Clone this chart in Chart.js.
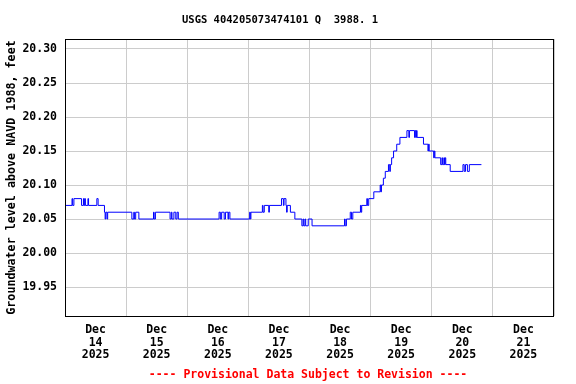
<!DOCTYPE html>
<html>
<head>
<meta charset="utf-8">
<script src="https://cdn.jsdelivr.net/npm/chart.js@4"></script>
<style>
  html, body { margin: 0; padding: 0; background: #fff; }
  #wrap { width: 576px; height: 384px; }
</style>
</head>
<body>
<div id="wrap"><canvas id="gw"></canvas></div>
<script>
// ── Data (hours since Dec 14 2025 00:00, level in ft) ─────────────
const TITLE = "USGS 404205073474101 Q  3988. 1";
const Y_TITLE = "Groundwater level above NAVD 1988, feet";
const FOOTER = "---- Provisional Data Subject to Revision ----";

const dayLabels = ["14", "15", "16", "17", "18", "19", "20", "21"];
const yTicks = [19.95, 20.00, 20.05, 20.10, 20.15, 20.20, 20.25, 20.30];

const hours = [
  0, 2.75, 3, 3.5, 6.5, 7.25, 7.5, 7.75, 8, 9, 9.25, 12.5, 13,
  15.5, 15.75, 16, 16.5, 16.75, 26.25, 27, 27.25, 27.75, 29,
  34.75, 35, 35.5, 41.25, 41.75, 42, 42.75, 43.5, 44, 44.5,
  60.5, 61, 61.5, 62.5, 63, 64, 64.25, 64.75, 72.5, 72.75, 73,
  77.5, 77.75, 78.25, 80, 80.25, 85, 85.75, 86, 86.75, 87, 87.25,
  88.5, 90.25, 93, 93.5, 93.75, 94.25, 94.5, 95.5, 97,
  109.75, 110, 110.5, 112, 112.5, 113, 116, 116.25, 116.5,
  118.5, 118.75, 119.25, 121.25, 123.75, 124, 124.25, 125, 125.75,
  127, 127.5, 127.75, 128.25, 129, 130.25, 131.5, 134.25, 135, 135.25,
  137.25, 137.5, 137.75, 138, 138.25, 140.75, 142.5, 142.75, 143,
  144.75, 145, 145.25, 147.5, 148, 148.25, 148.75, 149, 149.25, 149.5,
  151.25, 156.25, 156.75, 157.25, 158, 158.75, 163.5
];
const levels = [
  20.07, 20.08, 20.07, 20.08, 20.07, 20.08, 20.07, 20.08, 20.07, 20.08, 20.07, 20.08, 20.07,
  20.06, 20.05, 20.06, 20.05, 20.06, 20.05, 20.06, 20.05, 20.06, 20.05,
  20.06, 20.05, 20.06, 20.05, 20.06, 20.05, 20.06, 20.05, 20.06, 20.05,
  20.06, 20.05, 20.06, 20.05, 20.06, 20.05, 20.06, 20.05, 20.06, 20.05, 20.06,
  20.07, 20.06, 20.07, 20.06, 20.07, 20.08, 20.07, 20.08, 20.07, 20.06, 20.07,
  20.06, 20.05, 20.04, 20.05, 20.04, 20.05, 20.04, 20.05, 20.04,
  20.05, 20.04, 20.05, 20.06, 20.05, 20.06, 20.07, 20.06, 20.07,
  20.08, 20.07, 20.08, 20.09, 20.10, 20.09, 20.10, 20.11, 20.12,
  20.13, 20.12, 20.13, 20.14, 20.15, 20.16, 20.17, 20.18, 20.17, 20.18,
  20.17, 20.18, 20.17, 20.18, 20.17, 20.16, 20.15, 20.16, 20.15,
  20.14, 20.15, 20.14, 20.13, 20.14, 20.13, 20.14, 20.13, 20.14, 20.13,
  20.12, 20.13, 20.12, 20.13, 20.12, 20.13, 20.13
];

const FONT = "'DejaVu Sans Mono', 'Liberation Mono', monospace";

// ── Frame + title/footer text ─────────────────────────────────────
const usgsText = {
  id: "usgsText",
  afterDraw(chart) {
    const { ctx, chartArea: a } = chart;
    ctx.save();
    ctx.strokeStyle = "#000";
    ctx.lineWidth = 1;
    ctx.strokeRect(a.left + 0.5, a.top + 0.5, a.right - a.left - 1, a.bottom - a.top);
    ctx.textAlign = "center";
    ctx.textBaseline = "middle";
    ctx.fillStyle = "#000";
    ctx.font = "bold 10.5px " + FONT;
    ctx.fillText(TITLE, 280, 20);
    ctx.fillStyle = "#ff0000";
    ctx.font = "bold 11.5px " + FONT;
    ctx.fillText(FOOTER, 308, 375);
    ctx.restore();
  }
};

new Chart(document.getElementById("gw"), {
  type: "line",
  data: {
    datasets: [{
      data: hours.map((h, i) => ({ x: h, y: levels[i] })),
      borderColor: "#0000ff",
      borderWidth: 1,
      pointRadius: 0,
      stepped: true,
      fill: false
    }]
  },
  options: {
    responsive: true, maintainAspectRatio: false, animation: false,
    layout: { padding: { top: 39, right: 22, left: 0, bottom: 0 } },
    plugins: { legend: { display: false }, tooltip: { enabled: false } },
    scales: {
      x: {
        type: "linear", min: 0, max: 192,
        afterBuildTicks: s => { s.ticks = []; for (let v = 0; v <= 192; v += 12) s.ticks.push({ value: v }); },
        afterFit: s => { s.height = 68; },
        border: { display: false },
        grid: {
          drawTicks: false,
          color: c => (c.tick && c.tick.value % 24 === 0) ? "#cccccc" : "rgba(0,0,0,0)"
        },
        ticks: {
          autoSkip: false, maxRotation: 0, padding: 8, color: "#000",
          font: { family: FONT, size: 11.5, weight: "bold", lineHeight: 1.09 },
          callback: v => (v % 24 === 12) ? ["Dec", dayLabels[(v - 12) / 24], "2025"] : ""
        }
      },
      y: {
        min: 19.9074, max: 20.3147,
        afterBuildTicks: s => { s.ticks = yTicks.map(v => ({ value: v })); },
        afterFit: s => { s.width = 65; },
        border: { display: false },
        grid: { drawTicks: false, color: "#cccccc" },
        ticks: {
          padding: 8, color: "#000",
          font: { family: FONT, size: 11.5, weight: "bold" },
          callback: v => v.toFixed(2)
        },
        title: {
          display: true, text: Y_TITLE, color: "#000",
          padding: { top: 5, bottom: 0 },
          font: { family: FONT, size: 11.7, weight: "bold", lineHeight: 1.2 }
        }
      }
    }
  },
  plugins: [usgsText]
});
</script>
</body>
</html>
